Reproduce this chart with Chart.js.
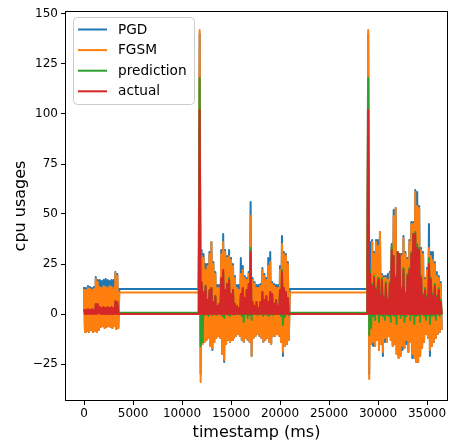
<!DOCTYPE html>
<html>
<head>
<meta charset="utf-8">
<script src="https://cdn.jsdelivr.net/npm/chart.js@4.4.0/dist/chart.umd.min.js"></script>
<style>
  html, body { margin: 0; padding: 0; background: #fff; }
</style>
</head>
<body>
<canvas id="cpuChart" width="450" height="443"></canvas>
<script>
// legend order
const seriesNames = ["PGD", "FGSM", "prediction", "actual"];
const xTicks = [0, 5000, 10000, 15000, 20000, 25000, 30000, 35000];
const yTicks = [-25, 0, 25, 50, 75, 100, 125, 150];

// three bursts of activity, sampled every 100 ms, flat in between
const burstStarts = [0, 11800, 29000];
const sampleStep = 100;
const flatLevels = [12.5, 10.7, 0.6, 0];

// PGD
const pgdBurst1 = [13.5,-9, 13,-8.5, 14,-9, 13.5,-8, 13,-9, 13.5,-8.5, 18.5,-9, 17,-8, 17,-6.5, 16.5,-6, 17,-7, 17.5,-6.5, 17,-6, 16.5,-6.5, 17,-7, 17,-6, 21,-7.5, 20,-7];
const pgdBurst2 = [140,-30,
  32,-15, 30,-14, 25,-13, 25,-12, 31,-16, 36,-18, 26,-14, 21,-12, 14.5,-11, 14.5,-12,
  32,-20, 40,-24, 32,-15, 29,-13, 32,-14, 28,-13, 25,-12, 19,-11, 14.5,-10, 14.5,-11,
  28,-13, 24,-14, 19,-12, 18,-13, 21,-14, 56,-21, 18,-12, 16,-11, 14.5,-10, 14.5,-11,
  15,-12, 23,-14, 20,-13, 18,-12, 28,-14, 31,-15, 16,-11, 15,-11, 14.5,-10, 14.5,-11,
  24,-14, 39,-21, 31,-16, 30,-15, 26,-13];
const pgdBurst3 = [140,-30,
  36,-15, 37,-16, 31,-16, 37,-13, 37,-18, 41,-15, 20,-21, 19,-14, 19,-14, 20,-11,
  21,-13, 35,-16, 52,-15, 53,-20, 31,-22, 30,-21, 30,-18, 39,-17, 31,-15, 28,-19,
  37,-14, 46,-22, 46,-22, 62,-24, 61,-24, 54,-21, 33,-17, 31,-14, 18,-10, 23,-12,
  45,-21, 31,-16, 31,-14, 26,-12, 21,-10, 19,-9, 16,-8];

// FGSM
const fgsmBurst1 = [12.5,-9, 12,-8.5, 13,-9, 12.5,-8, 12,-9, 12.5,-8.5, 17.5,-9, 16,-8, 13.5,-6.5, 13,-6, 14,-7, 13.5,-6.5, 13,-6, 14,-6.5, 13.5,-7, 13,-6, 20.5,-7.5, 19,-7];
const fgsmBurst2 = [142,-34,
  29,-15, 28,-14, 22,-13, 24,-12, 30,-16, 36,-17, 25,-14, 20,-12, 13,-11, 13,-12,
  30,-20, 36,-23, 31,-15, 28,-13, 29,-14, 27,-13, 24,-12, 18,-11, 13,-10, 12,-11,
  20,-13, 22,-14, 18,-12, 17,-13, 20,-14, 49,-21, 17,-12, 15,-11, 13,-10, 13,-11,
  14,-12, 22,-14, 19,-13, 17,-12, 24,-14, 26,-15, 15,-11, 14,-11, 13,-10, 13,-11,
  22,-14, 35,-19, 30,-16, 29,-15, 25,-13];
const fgsmBurst3 = [142,-32.5,
  20,-15, 36,-14, 30,-16, 36,-13, 34,-18, 41,-15, 19,-19, 18,-12, 18,-14, 17,-11,
  20,-13, 34,-16, 49,-15, 53,-20, 30,-22, 29,-21, 29,-16, 38,-17, 30,-13, 27,-19,
  36,-14, 45,-20, 45,-22, 61,-24, 54,-24, 53,-21, 32,-17, 30,-14, 17,-10, 22,-12,
  33,-18, 29,-16, 27,-14, 25,-12, 19,-10, 18,-9, 15,-8];

// prediction
const predBurst1 = [2,0.5, 1.5,0.5, 2,0.5, 1.5,0.5, 2,0.5, 1.5,0.5, 4.5,0.5, 4.5,0.5, 3,0.5, 2.5,0.5, 3,0.5, 2.5,0.5, 3,0.5, 2.5,0.5, 3,0.5, 2.5,0.5, 6,0.5, 5.5,0.5];
const predBurst2 = [118,-16,
  15,-14, 10,-0.5, 14,0, 7,-1, 11,0, 13,-0.5, 6,0, 9,-0.5, 4,0, 5,0,
  17,-1, 21,-2, 12,0, 15,-0.5, 18,-1, 10,0, 12,-0.5, 5,0, 4,0, 3,0,
  10,-1, 13,-4, 8,0, 12,-2, 14,-0.5, 33,-3, 6,0, 4,0, 6,-0.5, 3,0,
  6,0, 11,-1, 7,0, 9,-0.5, 6,-1, 11,0, 10,-0.5, 5,0, 7,0, 4,0,
  12,-1, 22,-5.5, 13,-1.5, 11,0, 8,-0.5];
const predBurst3 = [118,-10.5,
  22,-7, 15,-1, 19,-3, 13,0, 18,-4, 10,-0.5, 18,-1, 9,-3, 16,-0.5, 8,-1,
  16,-4, 34,-0.5, 29,-1, 19,-5, 31,0, 30,-2, 13,-0.5, 23,-4, 11,-1, 20,0,
  23,-3, 31,-0.5, 40,-5, 41,-1, 35,-0.5, 33,-4, 19,0, 10,-1, 13,-3, 9,-0.5,
  28,-5, 18,-1, 10,-0.5, 15,-3, 9,0, 13,-1, 7,-0.5];

// actual
const actualBurst1 = [2.5,0, 2,0, 2.5,0, 2,0, 2.5,0, 2,0, 5,0, 5,0.5, 3.5,0, 3,0, 3.5,0, 3,0, 3.5,0, 3,0, 3.5,0, 3,0, 6.5,0, 6,0];
const actualBurst2 = [102,0,
  16,0, 11,0, 14,0, 7,0, 12,0, 13,0, 6,0, 9,0, 4,0, 5,0,
  18,0, 22,0, 12,0, 15,0, 17,0, 10,0, 12,0, 5,0, 4,0, 3,0,
  10,0, 13,0, 8,0, 12,0, 15,0, 31,0, 6,0, 4,0, 6,0, 3,0,
  6,0, 11,0, 7,0, 9,0, 6,0, 11,0, 10,0, 5,0, 7,0, 4,0,
  12,0, 21,0, 13,0, 11,0, 8,0];
const actualBurst3 = [102,0,
  20,0, 14,0, 18,0, 12,0, 17,0, 9,0, 17,0, 8,0, 15,0, 7,0,
  15,0, 32,0, 29,0, 18,0, 31,0, 30,0, 12,0, 22,0, 10,0, 19,0,
  22,0, 30,0, 40,0, 40,0, 33,0, 32,0, 18,0, 9,0, 12,0, 8,0,
  25,0, 17,0, 9,0, 14,0, 8,0, 12,0, 6,0];

const bursts = [
  [pgdBurst1, pgdBurst2, pgdBurst3],
  [fgsmBurst1, fgsmBurst2, fgsmBurst3],
  [predBurst1, predBurst2, predBurst3],
  [actualBurst1, actualBurst2, actualBurst3]
];
const colors = ["#1f77b4", "#ff7f0e", "#2ca02c", "#d62728"];

// bursts joined by flat stretches
function buildSeries(parts, flat) {
  const pts = [];
  parts.forEach((vals, b) => {
    const t0 = burstStarts[b];
    if (b > 0) pts.push({ x: t0 - sampleStep, y: flat });
    vals.forEach((v, i) => pts.push({ x: t0 + i * sampleStep, y: v }));
    if (b < parts.length - 1) pts.push({ x: t0 + vals.length * sampleStep, y: flat });
  });
  return pts;
}

const frameAndLegend = {
  id: "frameAndLegend",
  afterDraw(chart) {
    const { ctx, chartArea: a } = chart;
    ctx.save();
    // full box like matplotlib spines
    ctx.strokeStyle = "#000";
    ctx.lineWidth = 1;
    ctx.strokeRect(Math.round(a.left) - 0.5, Math.round(a.top) - 0.5,
      Math.round(a.right - a.left) + 1, Math.round(a.bottom - a.top) + 1);

    // legend box, top-left inside the axes
    const bx = a.left + 7, by = a.top + 5, bw = 121, bh = 87, r = 4;
    ctx.beginPath();
    ctx.roundRect(bx + 0.5, by + 0.5, bw, bh, r);
    ctx.fillStyle = "rgba(255,255,255,0.8)";
    ctx.fill();
    ctx.strokeStyle = "#cccccc";
    ctx.stroke();

    ctx.font = "13.7px 'DejaVu Sans'";
    ctx.textBaseline = "middle";
    ctx.textAlign = "left";
    seriesNames.forEach((name, i) => {
      const ry = by + 12.5 + i * 20.6;
      ctx.beginPath();
      ctx.moveTo(bx + 5, ry);
      ctx.lineTo(bx + 34, ry);
      ctx.strokeStyle = colors[i];
      ctx.lineWidth = 2;
      ctx.stroke();
      ctx.fillStyle = "#000";
      ctx.fillText(name, bx + 45, ry + 0.5);
    });
    ctx.restore();
  }
};

Chart.defaults.font.family = "'DejaVu Sans'";

const tickFont = { family: "'DejaVu Sans'", size: 12 };
const titleFont = { family: "'DejaVu Sans'", size: 16 };
const fmt = (v) => String(v).replace("-", "\u2212");

new Chart(document.getElementById("cpuChart"), {
  type: "line",
  data: {
    datasets: seriesNames.map((name, i) => ({
      label: name,
      data: buildSeries(bursts[i], flatLevels[i]),
      borderColor: colors[i],
      backgroundColor: colors[i],
      borderWidth: 2,
      borderJoinStyle: "round",
      pointRadius: 0,
      tension: 0,
      fill: false,
      order: seriesNames.length - i // later series drawn on top
    }))
  },
  options: {
    responsive: false,
    devicePixelRatio: 1,
    animation: false,
    parsing: false,
    normalized: true,
    layout: { padding: { top: 12, right: 3, left: 0, bottom: 0 } },
    plugins: {
      legend: { display: false },
      tooltip: { enabled: false }
    },
    scales: {
      x: {
        type: "linear",
        min: -1840,
        max: 37040,
        afterFit: (s) => { s.height = 43; },
        afterBuildTicks: (s) => { s.ticks = xTicks.map((v) => ({ value: v })); },
        ticks: { autoSkip: false, maxRotation: 0, padding: 2, color: "#000", font: tickFont, callback: fmt },
        grid: { drawOnChartArea: false, tickLength: 5, tickColor: "#000" },
        border: { display: false },
        title: { display: true, text: "timestamp (ms)", color: "#000", font: titleFont, padding: { top: 0, bottom: 1 } }
      },
      y: {
        type: "linear",
        min: -43,
        max: 151,
        afterFit: (s) => { s.width = 66; },
        afterBuildTicks: (s) => { s.ticks = yTicks.map((v) => ({ value: v })); },
        ticks: { autoSkip: false, padding: 3, color: "#000", font: tickFont, callback: fmt },
        grid: { drawOnChartArea: false, tickLength: 5, tickColor: "#000" },
        border: { display: false },
        title: { display: true, text: "cpu usages", color: "#000", font: titleFont, padding: { top: 11, bottom: 0 } }
      }
    }
  },
  plugins: [frameAndLegend]
});
</script>
</body>
</html>
